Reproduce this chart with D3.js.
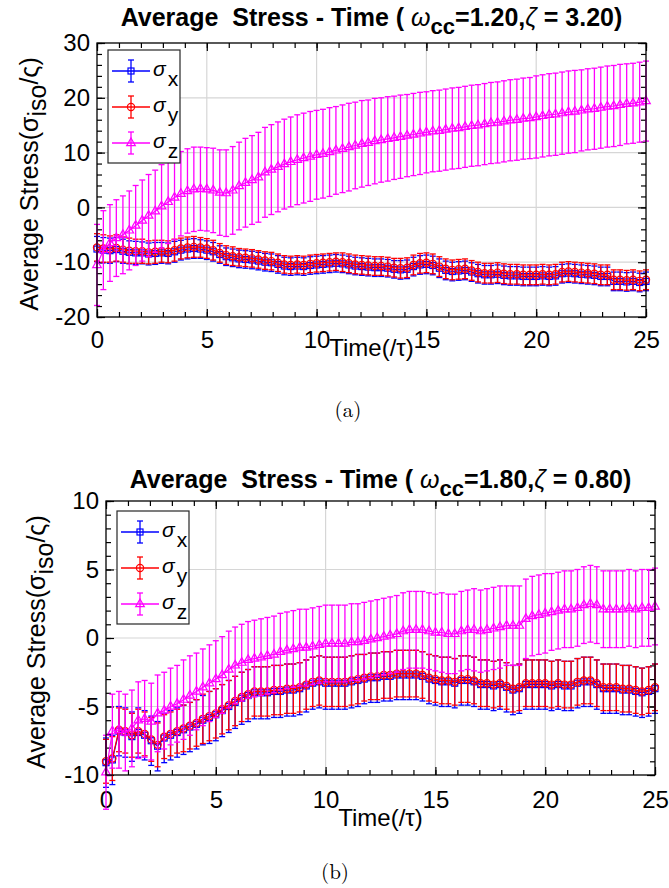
<!DOCTYPE html>
<html>
<head>
<meta charset="utf-8">
<script src="https://cdn.jsdelivr.net/npm/d3@7/dist/d3.min.js"></script>
<style>
body { margin:0; background:#fff; }
svg { display:block; }
text { white-space: pre; }
</style>
</head>
<body>
<div id="figure"></div>
<script>

// sample times, shared by both panels
var times = [0, 0.29, 0.59, 0.88, 1.18, 1.47, 1.76, 2.06, 2.35, 2.65,
  2.94, 3.24, 3.53, 3.82, 4.12, 4.41, 4.71, 5.00, 5.29, 5.59,
  5.88, 6.18, 6.47, 6.76, 7.06, 7.35, 7.65, 7.94, 8.24, 8.53,
  8.82, 9.12, 9.41, 9.71, 10.00, 10.29, 10.59, 10.88, 11.18, 11.47,
  11.76, 12.06, 12.35, 12.65, 12.94, 13.24, 13.53, 13.82, 14.12, 14.41,
  14.71, 15.00, 15.29, 15.59, 15.88, 16.18, 16.47, 16.76, 17.06, 17.35,
  17.65, 17.94, 18.24, 18.53, 18.82, 19.12, 19.41, 19.71, 20.00, 20.29,
  20.59, 20.88, 21.18, 21.47, 21.76, 22.06, 22.35, 22.65, 22.94, 23.24,
  23.53, 23.82, 24.12, 24.41, 24.71, 25.00];

// panel (a)  omega_cc = 1.20, zeta = 3.20
var sxA = [-7.6, -7.8, -7.9, -7.7, -8.0, -8.2, -8.3, -8.3, -8.5, -8.4,
  -8.3, -8.4, -8.1, -7.8, -7.6, -7.5, -7.6, -7.8, -8.1, -8.6,
  -9.0, -9.2, -9.4, -9.5, -9.6, -9.8, -10.0, -10.1, -10.4, -10.7,
  -10.8, -10.7, -10.8, -10.6, -10.5, -10.4, -10.3, -10.2, -10.3, -10.5,
  -10.7, -10.8, -10.9, -11.0, -11.0, -11.1, -11.3, -11.4, -11.3, -10.8,
  -10.5, -10.4, -10.6, -11.1, -11.5, -11.7, -11.6, -11.5, -11.8, -12.1,
  -12.3, -12.3, -12.2, -12.4, -12.5, -12.5, -12.6, -12.6, -12.6, -12.5,
  -12.6, -12.5, -12.1, -12.0, -12.1, -12.2, -12.3, -12.4, -12.6, -12.6,
  -13.5, -13.5, -13.6, -13.5, -13.7, -13.5];
var sxErrA = [2.3, 2.3, 2.3, 2.2, 2.2, 2.1, 2.1, 2.0, 2.0, 2.0,
  1.9, 1.9, 1.9, 1.8, 1.8, 1.8, 1.7, 1.7, 1.7, 1.6,
  1.6, 1.6, 1.6, 1.6, 1.6, 1.6, 1.6, 1.6, 1.6, 1.6,
  1.6, 1.6, 1.6, 1.6, 1.6, 1.6, 1.6, 1.6, 1.6, 1.6,
  1.6, 1.6, 1.6, 1.6, 1.6, 1.6, 1.6, 1.7, 1.7, 1.7,
  1.7, 1.7, 1.7, 1.7, 1.7, 1.7, 1.7, 1.7, 1.7, 1.7,
  1.7, 1.7, 1.7, 1.7, 1.7, 1.7, 1.7, 1.7, 1.7, 1.7,
  1.7, 1.7, 1.7, 1.7, 1.7, 1.7, 1.7, 1.7, 1.7, 1.7,
  1.7, 1.7, 1.7, 1.7, 1.7, 1.7];
var syA = [-7.3, -7.5, -7.6, -7.4, -7.7, -7.9, -8.0, -8.0, -8.2, -8.1,
  -8.0, -8.1, -7.8, -7.5, -7.3, -7.2, -7.3, -7.5, -7.8, -8.3,
  -8.7, -8.9, -9.1, -9.2, -9.3, -9.5, -9.7, -9.8, -10.1, -10.4,
  -10.5, -10.4, -10.5, -10.3, -10.2, -10.1, -10.0, -9.9, -10.0, -10.2,
  -10.4, -10.5, -10.6, -10.7, -10.7, -10.8, -11.0, -11.1, -11.0, -10.5,
  -10.2, -10.1, -10.3, -10.8, -11.2, -11.4, -11.3, -11.2, -11.5, -11.8,
  -12.0, -12.0, -11.9, -12.1, -12.2, -12.2, -12.3, -12.3, -12.3, -12.2,
  -12.3, -12.2, -11.8, -11.7, -11.8, -11.9, -12.0, -12.1, -12.3, -12.3,
  -13.2, -13.2, -13.3, -13.2, -13.4, -13.2];
var syErrA = [2.5, 2.5, 2.4, 2.4, 2.3, 2.3, 2.2, 2.2, 2.1, 2.1,
  2.0, 2.0, 2.0, 1.9, 1.9, 1.9, 1.8, 1.8, 1.8, 1.7,
  1.7, 1.7, 1.6, 1.6, 1.6, 1.6, 1.6, 1.6, 1.6, 1.6,
  1.6, 1.6, 1.6, 1.6, 1.6, 1.6, 1.6, 1.6, 1.7, 1.7,
  1.7, 1.7, 1.7, 1.7, 1.7, 1.7, 1.7, 1.8, 1.8, 1.8,
  1.8, 1.8, 1.8, 1.8, 1.8, 1.8, 1.8, 1.8, 1.8, 1.8,
  1.8, 1.8, 1.8, 1.8, 1.8, 1.8, 1.8, 1.8, 1.8, 1.8,
  1.8, 1.8, 1.8, 1.8, 1.8, 1.8, 1.8, 1.8, 1.8, 1.8,
  1.8, 1.8, 1.8, 1.8, 1.8, 1.8];
var szA = [-10.5, -7.8, -6.5, -5.6, -5.0, -4.2, -3.3, -2.4, -1.5, -0.7,
  0.2, 1.0, 1.8, 2.5, 3.0, 3.3, 3.4, 3.3, 3.1, 2.7,
  2.6, 3.1, 3.9, 4.5, 5.0, 5.5, 6.4, 6.9, 7.4, 7.9,
  8.3, 8.7, 9.0, 9.3, 9.6, 9.8, 10.1, 10.4, 10.7, 11.0,
  11.3, 11.6, 11.8, 12.1, 12.3, 12.5, 12.7, 12.9, 13.1, 13.3,
  13.5, 13.7, 13.9, 14.0, 14.2, 14.4, 14.5, 14.7, 14.9, 15.0,
  15.2, 15.4, 15.5, 15.7, 15.9, 16.0, 16.2, 16.3, 16.5, 16.7,
  16.9, 17.0, 17.2, 17.4, 17.5, 17.7, 17.9, 18.0, 18.2, 18.4,
  18.5, 18.7, 18.9, 19.0, 19.2, 19.4];
var szErrA = [7.4, 7.2, 7.0, 7.0, 7.1, 7.2, 7.3, 7.4, 7.5, 7.5,
  7.6, 7.6, 7.7, 7.7, 7.7, 7.7, 7.6, 7.6, 7.7, 7.8,
  7.9, 8.0, 8.0, 8.1, 8.1, 8.2, 8.2, 8.2, 8.2, 8.2,
  8.2, 8.2, 8.2, 8.2, 8.1, 8.1, 8.1, 8.0, 8.0, 8.0,
  7.9, 7.9, 7.8, 7.8, 7.7, 7.7, 7.6, 7.6, 7.5, 7.5,
  7.5, 7.4, 7.4, 7.4, 7.4, 7.4, 7.4, 7.4, 7.4, 7.4,
  7.4, 7.4, 7.4, 7.4, 7.4, 7.4, 7.4, 7.4, 7.5, 7.5,
  7.5, 7.5, 7.5, 7.5, 7.5, 7.4, 7.4, 7.4, 7.4, 7.4,
  7.4, 7.4, 7.3, 7.3, 7.3, 7.3];

// panel (b)  omega_cc = 1.80, zeta = 0.80
var sxB = [-9.1, -8.9, -6.8, -6.9, -7.2, -6.9, -7.1, -7.5, -7.9, -7.3,
  -7.1, -6.9, -6.7, -6.5, -6.3, -6.0, -5.8, -5.6, -5.3, -5.0,
  -4.7, -4.4, -4.2, -4.0, -4.0, -4.0, -3.9, -3.9, -3.8, -3.8,
  -3.7, -3.5, -3.3, -3.2, -3.3, -3.3, -3.3, -3.3, -3.2, -3.1,
  -3.0, -2.9, -2.9, -2.8, -2.8, -2.7, -2.7, -2.7, -2.7, -2.8,
  -3.0, -3.1, -3.2, -3.2, -3.3, -3.1, -3.1, -3.2, -3.4, -3.4,
  -3.5, -3.4, -3.6, -3.8, -3.7, -3.4, -3.4, -3.4, -3.4, -3.5,
  -3.4, -3.5, -3.5, -3.3, -3.2, -3.2, -3.4, -3.7, -3.7, -3.7,
  -3.8, -3.8, -3.9, -4.0, -3.9, -3.7];
var sxErrB = [1.8, 1.8, 1.8, 1.8, 1.8, 1.8, 1.8, 1.8, 1.8, 1.8,
  1.8, 1.8, 1.8, 1.8, 1.8, 1.8, 1.9, 1.9, 1.9, 1.9,
  1.9, 1.9, 1.9, 1.9, 1.9, 1.9, 1.9, 1.9, 1.9, 1.9,
  1.9, 1.9, 1.9, 1.9, 1.9, 1.9, 1.9, 1.9, 1.9, 1.9,
  1.8, 1.8, 1.8, 1.8, 1.8, 1.8, 1.8, 1.8, 1.8, 1.8,
  1.8, 1.8, 1.8, 1.8, 1.8, 1.8, 1.8, 1.8, 1.8, 1.8,
  1.8, 1.8, 1.8, 1.8, 1.8, 1.8, 1.8, 1.8, 1.8, 1.8,
  1.8, 1.8, 1.8, 1.8, 1.8, 1.8, 1.8, 1.8, 1.8, 1.8,
  1.8, 1.8, 1.8, 1.8, 1.8, 1.8];
var syB = [-9.0, -8.8, -6.7, -6.8, -7.1, -6.8, -7.0, -7.4, -7.8, -7.2,
  -7.0, -6.8, -6.6, -6.4, -6.2, -5.9, -5.7, -5.5, -5.2, -4.9,
  -4.6, -4.3, -4.1, -3.9, -3.9, -3.9, -3.8, -3.8, -3.7, -3.7,
  -3.6, -3.4, -3.2, -3.1, -3.2, -3.2, -3.2, -3.2, -3.1, -3.0,
  -2.9, -2.8, -2.8, -2.7, -2.7, -2.6, -2.6, -2.6, -2.6, -2.7,
  -2.9, -3.0, -3.1, -3.1, -3.2, -3.0, -3.0, -3.1, -3.3, -3.3,
  -3.4, -3.3, -3.5, -3.7, -3.6, -3.3, -3.3, -3.3, -3.3, -3.4,
  -3.3, -3.4, -3.4, -3.2, -3.1, -3.1, -3.3, -3.6, -3.6, -3.6,
  -3.7, -3.7, -3.8, -3.9, -3.8, -3.6];
var syErrB = [1.6, 1.6, 1.6, 1.6, 1.6, 1.6, 1.6, 1.6, 1.6, 1.6,
  1.6, 1.6, 1.7, 1.7, 1.7, 1.8, 1.8, 1.8, 1.8, 1.8,
  1.8, 1.8, 1.8, 1.8, 1.8, 1.8, 1.8, 1.8, 1.8, 1.8,
  1.8, 1.8, 1.8, 1.8, 1.8, 1.8, 1.8, 1.8, 1.8, 1.8,
  1.7, 1.7, 1.7, 1.7, 1.7, 1.7, 1.7, 1.7, 1.7, 1.7,
  1.7, 1.7, 1.7, 1.7, 1.7, 1.7, 1.7, 1.7, 1.7, 1.7,
  1.7, 1.7, 1.7, 1.7, 1.7, 1.7, 1.7, 1.7, 1.7, 1.7,
  1.7, 1.7, 1.7, 1.7, 1.7, 1.7, 1.7, 1.7, 1.7, 1.7,
  1.7, 1.7, 1.7, 1.7, 1.7, 1.7];
var szB = [-9.8, -6.8, -6.7, -6.9, -6.6, -6.0, -5.9, -6.1, -5.5, -5.3,
  -5.0, -4.8, -4.5, -4.2, -3.9, -3.6, -3.3, -3.0, -2.7, -2.3,
  -2.0, -1.8, -1.6, -1.5, -1.4, -1.3, -1.2, -1.0, -0.9, -0.8,
  -0.7, -0.7, -0.6, -0.5, -0.4, -0.4, -0.4, -0.4, -0.3, -0.3,
  -0.2, -0.1, 0.0, 0.1, 0.2, 0.3, 0.5, 0.6, 0.6, 0.6,
  0.5, 0.4, 0.4, 0.3, 0.3, 0.5, 0.6, 0.6, 0.5, 0.6,
  0.7, 0.8, 0.9, 0.9, 0.9, 1.4, 1.6, 1.7, 1.8, 1.9,
  2.0, 2.1, 2.1, 2.2, 2.4, 2.5, 2.4, 2.1, 2.1, 2.1,
  2.1, 2.2, 2.1, 2.2, 2.2, 2.3];
var szErrB = [2.7, 2.7, 2.8, 2.8, 2.8, 2.8, 2.8, 2.8, 2.8, 2.8,
  2.8, 2.8, 2.9, 2.9, 2.8, 2.8, 2.8, 2.8, 2.8, 2.8,
  2.8, 2.8, 2.8, 2.8, 2.8, 2.8, 2.8, 2.8, 2.8, 2.8,
  2.8, 2.8, 2.8, 2.8, 2.8, 2.8, 2.8, 2.8, 2.8, 2.8,
  2.8, 2.8, 2.8, 2.8, 2.8, 2.8, 2.8, 2.8, 2.8, 2.8,
  2.8, 2.8, 2.9, 2.9, 2.9, 2.9, 2.9, 3.0, 3.0, 3.0,
  3.0, 3.0, 2.9, 2.9, 2.9, 2.9, 2.9, 2.9, 2.9, 2.8,
  2.8, 2.8, 2.8, 2.8, 2.8, 2.8, 2.8, 2.8, 2.8, 2.8,
  2.8, 2.8, 2.8, 2.8, 2.8, 2.8];

// tick labels
var xTicks = [0, 5, 10, 15, 20, 25];
var yTicksA = [-20, -10, 0, 10, 20, 30];
var yTicksB = [-10, -5, 0, 5, 10];

var seriesNames = ["x", "y", "z"];
var colors = ["#0000ff", "#ff0000", "#ff00ff"];
var markers = ["square", "circle", "triangle"];

var FONT = "'Liberation Sans', Arial, Helvetica, sans-serif";

var svg = d3.select("#figure").append("svg")
  .attr("width", 669)
  .attr("height", 888);


function addMarker(sel, type, color) {
	if (type == "square") {
		sel.append("rect")
		.attr("x", -3).attr("y", -3)
		.attr("width", 6).attr("height", 6);
	}
	else if (type == "circle") {
		sel.append("circle").attr("r", 3.6);
	}
	else {
		sel.append("path").attr("d", "M0,-5L4.3,2.6L-4.3,2.6Z");
	}
	sel.selectAll("*")
	.attr("fill", "none")
	.attr("stroke", color)
	.attr("stroke-width", 1.2);
}

function drawSeries(g, xs, ys, mean, err, color, type) {
	var pts = times.map(function(t, i) { return [t, mean[i], err[i]]; });
	var cap = 3;

	var bars = g.append("g")
	.attr("stroke", color)
	.attr("stroke-width", 1.3)
	.attr("fill", "none");

	bars.selectAll("line.eb")
	.data(pts)
	.enter()
	.append("line")
	.attr("class", "eb")
	.attr("x1", function(d) { return xs(d[0]); })
	.attr("x2", function(d) { return xs(d[0]); })
	.attr("y1", function(d) { return ys(d[1] - d[2]); })
	.attr("y2", function(d) { return ys(d[1] + d[2]); });

	bars.selectAll("line.capHi")
	.data(pts)
	.enter()
	.append("line")
	.attr("class", "capHi")
	.attr("x1", function(d) { return xs(d[0]) - cap; })
	.attr("x2", function(d) { return xs(d[0]) + cap; })
	.attr("y1", function(d) { return ys(d[1] + d[2]); })
	.attr("y2", function(d) { return ys(d[1] + d[2]); });

	bars.selectAll("line.capLo")
	.data(pts)
	.enter()
	.append("line")
	.attr("class", "capLo")
	.attr("x1", function(d) { return xs(d[0]) - cap; })
	.attr("x2", function(d) { return xs(d[0]) + cap; })
	.attr("y1", function(d) { return ys(d[1] - d[2]); })
	.attr("y2", function(d) { return ys(d[1] - d[2]); });

	var line = d3.line()
	.x(function(d) { return xs(d[0]); })
	.y(function(d) { return ys(d[1]); });

	g.append("path")
	.datum(pts)
	.attr("d", line)
	.attr("fill", "none")
	.attr("stroke", color)
	.attr("stroke-width", 1.2);

	g.selectAll("g.mk_" + type)
	.data(pts)
	.enter()
	.append("g")
	.attr("class", "mk_" + type)
	.attr("transform", function(d) { return "translate(" + xs(d[0]) + "," + ys(d[1]) + ")"; })
	.each(function() { addMarker(d3.select(this), type, color); });
}

function drawPanel(p) {
	var g = svg.append("g");
	var xs = d3.scaleLinear().domain([0, 25]).range([p.left, p.right]);
	var ys = d3.scaleLinear().domain(p.yDomain).range([p.bottom, p.top]);

	// grid
	g.selectAll("line.gx")
	.data(xTicks.slice(1, -1))
	.enter()
	.append("line")
	.attr("x1", xs).attr("x2", xs)
	.attr("y1", p.top).attr("y2", p.bottom)
	.attr("stroke", "#d6d6d6")
	.attr("stroke-width", 1.2);

	g.selectAll("line.gy")
	.data(p.yTicks.slice(1, -1))
	.enter()
	.append("line")
	.attr("y1", ys).attr("y2", ys)
	.attr("x1", p.left).attr("x2", p.right)
	.attr("stroke", "#d6d6d6")
	.attr("stroke-width", 1.2);

	var fmt = function(d) { return String(d); };
	var xMinor = d3.range(0, 25.01, 1);
	var yMinor = d3.range(p.yDomain[0], p.yDomain[1] + 0.01, p.yMinorStep);

	var axes = g.append("g")
	.attr("font-family", FONT)
	.attr("font-size", 24);

	function styleAx(s) {
		s.select(".domain").remove();
		s.attr("font-family", FONT).attr("font-size", 24);
		s.selectAll("text").attr("fill", "#000");
		s.selectAll("line").attr("stroke-width", 1.2);
	}

	// bottom + top
	axes.append("g").attr("transform", "translate(0," + p.bottom + ")")
	.call(d3.axisBottom(xs).tickValues(xTicks).tickFormat(fmt).tickSize(-8).tickSizeOuter(0).tickPadding(p.xPad))
	.call(styleAx);
	axes.append("g").attr("transform", "translate(0," + p.bottom + ")")
	.call(d3.axisBottom(xs).tickValues(xMinor).tickFormat("").tickSize(-5).tickSizeOuter(0))
	.call(styleAx);
	axes.append("g").attr("transform", "translate(0," + p.top + ")")
	.call(d3.axisTop(xs).tickValues(xTicks).tickFormat("").tickSize(-8).tickSizeOuter(0))
	.call(styleAx);
	axes.append("g").attr("transform", "translate(0," + p.top + ")")
	.call(d3.axisTop(xs).tickValues(xMinor).tickFormat("").tickSize(-5).tickSizeOuter(0))
	.call(styleAx);

	// left + right
	axes.append("g").attr("transform", "translate(" + p.left + ",0)")
	.call(d3.axisLeft(ys).tickValues(p.yTicks).tickFormat(fmt).tickSize(-8).tickSizeOuter(0).tickPadding(7))
	.call(styleAx);
	axes.append("g").attr("transform", "translate(" + p.left + ",0)")
	.call(d3.axisLeft(ys).tickValues(yMinor).tickFormat("").tickSize(-5).tickSizeOuter(0))
	.call(styleAx);
	axes.append("g").attr("transform", "translate(" + p.right + ",0)")
	.call(d3.axisRight(ys).tickValues(p.yTicks).tickFormat("").tickSize(-8).tickSizeOuter(0))
	.call(styleAx);
	axes.append("g").attr("transform", "translate(" + p.right + ",0)")
	.call(d3.axisRight(ys).tickValues(yMinor).tickFormat("").tickSize(-5).tickSizeOuter(0))
	.call(styleAx);

	// data: x, y then z on top
	var plot = g.append("g");
	for (var s = 0; s < 3; s++) {
		drawSeries(plot, xs, ys, p.means[s], p.errs[s], colors[s], markers[s]);
	}

	// box
	g.append("rect")
	.attr("x", p.left).attr("y", p.top)
	.attr("width", p.right - p.left).attr("height", p.bottom - p.top)
	.attr("fill", "none")
	.attr("stroke", "#000")
	.attr("stroke-width", 1.3);

	// title
	var cx = (p.left + p.right) / 2;
	var title = g.append("text")
	.attr("x", cx).attr("y", p.titleY)
	.attr("text-anchor", "middle")
	.attr("font-family", FONT)
	.attr("font-size", 25)
	.attr("font-weight", "bold");
	title.append("tspan").text("Average  Stress - Time ( ");
	title.append("tspan").text("\u03c9").attr("font-weight", "normal").attr("font-style", "italic");
	title.append("tspan").text("cc").attr("dy", 8).attr("font-size", 22);
	title.append("tspan").text("=" + p.omega + ",").attr("dy", -8);
	title.append("tspan").text("\u03b6").attr("font-weight", "normal").attr("font-style", "italic");
	title.append("tspan").text(" = " + p.zeta + ")");

	// axis labels
	var xl = g.append("text")
	.attr("x", cx).attr("y", p.xLabelY)
	.attr("text-anchor", "middle")
	.attr("font-family", FONT)
	.attr("font-size", 24);
	xl.append("tspan").text("Time(/");
	xl.append("tspan").text("\u03c4");
	xl.append("tspan").text(")");

	var yl = g.append("text")
	.attr("transform", "translate(" + p.yLabelX + "," + p.yLabelY + ")rotate(-90)")
	.attr("text-anchor", "middle")
	.attr("font-family", FONT)
	.attr("font-size", 25);
	yl.append("tspan").text("Average Stress(\u03c3");
	yl.append("tspan").text("iso").attr("dy", 8);
	yl.append("tspan").text("/\u03c2)").attr("dy", -8);

	// legend
	var leg = g.append("g").attr("transform", "translate(" + p.legX + "," + p.legY + ")");
	leg.append("rect")
	.attr("width", 72).attr("height", 113)
	.attr("fill", "#fff")
	.attr("stroke", "#262626")
	.attr("stroke-width", 1.2);
	for (var k = 0; k < 3; k++) {
		var row = leg.append("g").attr("transform", "translate(0," + (21 + k * 36) + ")");
		row.append("line")
		.attr("x1", 4).attr("x2", 42).attr("y1", 0).attr("y2", 0)
		.attr("stroke", colors[k]).attr("stroke-width", 1.3);
		row.append("line")
		.attr("x1", 23).attr("x2", 23).attr("y1", -11).attr("y2", 11)
		.attr("stroke", colors[k]).attr("stroke-width", 1.3);
		row.selectAll("line.c")
		.data([-11, 11])
		.enter()
		.append("line")
		.attr("x1", 20).attr("x2", 26)
		.attr("y1", function(d) { return d; }).attr("y2", function(d) { return d; })
		.attr("stroke", colors[k]).attr("stroke-width", 1.3);
		var m = row.append("g").attr("transform", "translate(23,0)");
		addMarker(m, markers[k], colors[k]);
		var lt = row.append("text")
		.attr("x", 45).attr("y", 5)
		.attr("font-family", FONT)
		.attr("font-size", 21);
		lt.append("tspan").text("\u03c3").attr("font-style", "italic");
		lt.append("tspan").text(seriesNames[k]).attr("dx", 2).attr("dy", 10);
	}

	// caption
	svg.append("text")
	.attr("x", p.capX).attr("y", p.capY)
	.attr("text-anchor", "middle")
	.attr("font-family", "'Latin Modern Roman', 'CMU Serif', 'DejaVu Serif', serif")
	.attr("font-size", 21)
	.text(p.caption);
}

drawPanel({
	left: 97, right: 646, top: 43, bottom: 317,
	yDomain: [-20, 30], yTicks: yTicksA, yMinorStep: 2,
	means: [sxA, syA, szA], errs: [sxErrA, syErrA, szErrA],
	omega: "1.20", zeta: "3.20", titleY: 26,
	xPad: 14, xLabelY: 356,
	yLabelX: 38, yLabelY: 184,
	legX: 108, legY: 50,
	caption: "(a)", capX: 348, capY: 417
});

drawPanel({
	left: 106, right: 655, top: 501, bottom: 775,
	yDomain: [-10, 10], yTicks: yTicksB, yMinorStep: 1,
	means: [sxB, syB, szB], errs: [sxErrB, syErrB, szErrB],
	omega: "1.80", zeta: "0.80", titleY: 488,
	xPad: 16, xLabelY: 826,
	yLabelX: 45, yLabelY: 642,
	legX: 117, legY: 511,
	caption: "(b)", capX: 335, capY: 879
});

</script>
</body>
</html>
